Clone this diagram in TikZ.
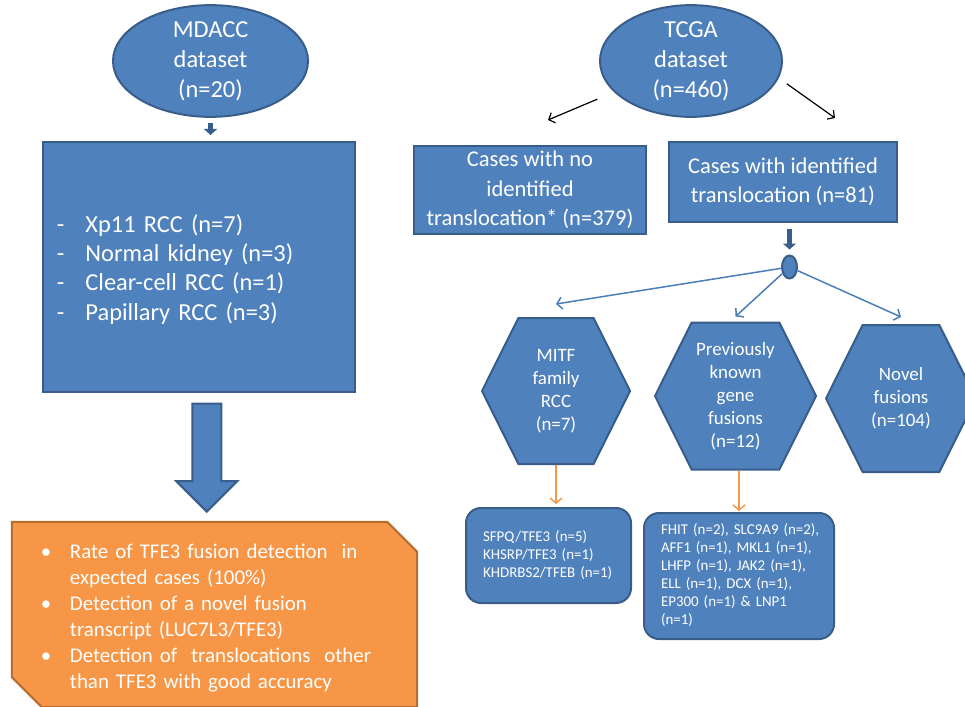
\documentclass[tikz,border=0pt]{standalone}
\usepackage{fontspec}
\setmainfont{Carlito}
\usetikzlibrary{shapes.geometric,shapes.symbols,shapes.arrows,arrows.meta,positioning,calc,backgrounds}
\definecolor{boxblue}{HTML}{4F81BD}
\definecolor{edgeblue}{HTML}{385D8A}
\definecolor{lineblue}{HTML}{4A7EBB}
\definecolor{boxorange}{HTML}{F79646}
\definecolor{edgeorange}{HTML}{B66D31}

\begin{document}
\begin{tikzpicture}[x=1bp, y=-1bp,
    every node/.style={text=white, font=\fontsize{22.6}{29.5}\selectfont},
    bluebox/.style={rectangle, draw=edgeblue, fill=boxblue, line width=2bp, inner sep=0pt},
    dataset/.style={ellipse, draw=edgeblue, fill=boxblue, line width=2bp, align=center, inner sep=0pt, font=\fontsize{24.5}{30}\selectfont},
    hexbox/.style={signal, signal to=east and west, signal pointer angle=127, draw=edgeblue, fill=boxblue, line width=2bp, align=center, inner sep=0pt, font=\fontsize{19}{23}\selectfont},
    genebox/.style={rectangle, rounded corners=15bp, draw=edgeblue, fill=boxblue, line width=2bp, align=left, inner ysep=0pt, inner xsep=17bp, font=\fontsize{15}{18}\selectfont},
    blockarrow/.style={edgeblue, line width=5bp, -{Triangle[length=6bp,width=13bp]}},
    thinarrow/.style={black, line width=1.2bp, -{Straight Barb[length=5bp,width=11bp]}},
    splitarrow/.style={lineblue, line width=1.5bp, -{Straight Barb[length=5bp,width=12bp]}},
    genearrow/.style={boxorange, line width=1.5bp, -{Straight Barb[length=5bp,width=12bp]}}
]
    \useasboundingbox (0,0) rectangle (965,707);

    % MDACC branch
    \node[dataset, minimum width=195bp, minimum height=102bp] (MDACC) at (210.5,61) {MDACC\\dataset\\(n=20)};
    \node[bluebox, minimum width=312bp, minimum height=250bp, align=left, text width=284bp, inner xsep=14bp,
        font=\fontsize{24.5}{29.3}\selectfont] (SAMPLES) at (199,267)
        {\raisebox{-3.5bp}[\height][\depth]{\begin{tabular}{@{}l@{\hspace{21bp}}l@{}}
            - & Xp11 RCC (n=7)\\
            - & Normal kidney (n=3)\\
            - & Clear-cell RCC (n=1)\\
            - & Papillary RCC (n=3)
        \end{tabular}}};
    \node[minimum width=405bp, minimum height=185bp, inner ysep=0pt, inner xsep=29bp, text width=347bp, align=left,
        font=\fontsize{21}{26}\selectfont] (RESULT) at (214.5,614.5)
        {\raisebox{-4bp}[\height][\depth]{\begin{tabular}{@{}l@{}l@{}}
            \makebox[29bp][l]{\textbullet} & Rate of TFE3 fusion detection \ in\\
                        & expected cases (100\%)\\
            \makebox[29bp][l]{\textbullet} & Detection of a novel fusion\\
                        & transcript (LUC7L3/TFE3)\\
            \makebox[29bp][l]{\textbullet} & Detection of \ translocations \ other\\
                        & than TFE3 with good accuracy
        \end{tabular}}};
    \begin{scope}[on background layer]
        \draw[draw=edgeorange, fill=boxorange, line width=2bp] (RESULT.north west) -- ([xshift=-30bp]RESULT.north east)
            -- ([yshift=-30bp]RESULT.north east) -- (RESULT.south east) -- ([xshift=30bp]RESULT.south west)
            -- ([yshift=30bp]RESULT.south west) -- cycle;
    \end{scope}

    \draw[blockarrow, shorten <=5bp, shorten >=6bp] (MDACC.south) -- (MDACC.south |- SAMPLES.north);
    \node[single arrow, rotate=-90, draw=edgeblue, fill=boxblue, line width=2bp, minimum height=108bp,
        inner xsep=0pt, inner ysep=13.5bp, single arrow head extend=16bp] (DOWN)
        at ([yshift=7bp]$(SAMPLES.south)!0.5!(RESULT.north)$) {};

    % TCGA branch
    \node[dataset, minimum width=182bp, minimum height=102bp] (TCGA) at (691,61) {TCGA\\dataset\\(n=460)};
    \node[bluebox, minimum width=232bp, minimum height=88bp, align=center] (NOID) at (530,190) {Cases with no\\identified\\translocation* (n=379)};
    \node[bluebox, minimum width=228bp, minimum height=80bp, align=center] (IDBOX) at (783,182) {Cases with identified\\translocation (n=81)};
    \coordinate (TL) at (548,120);
    \coordinate (TR) at (835,118);
    \draw[thinarrow, shorten <=18bp] (TCGA.202) -- (TL);
    \draw[thinarrow, shorten <=10bp] (TCGA.-11) -- (TR);

    \node[ellipse, draw=edgeblue, fill=boxblue, line width=2bp, minimum width=15bp, minimum height=23bp, inner sep=0pt] (SPLIT) at (789.5,267) {};
    \draw[blockarrow, shorten <=6bp, shorten >=5bp] (IDBOX.south -| SPLIT.north) -- (SPLIT.north);

    % Fusion groups
    \node[hexbox, minimum width=148bp, minimum height=146bp] (MITF) at (556,391) {MITF\\family\\RCC\\(n=7)};
    \node[hexbox, minimum width=161bp, minimum height=147bp] (GENES) at (735.5,396) {Previously\\known\\gene\\fusions\\(n=12)};
    \node[hexbox, minimum width=150bp, minimum height=147bp] (NOVEL) at (901,398.5) {Novel\\fusions\\(n=104)};

    \draw[splitarrow] (SPLIT) -- ([yshift=13bp]MITF.north);
    \draw[splitarrow] (SPLIT) -- ([yshift=5bp]GENES.north);
    \draw[splitarrow] (SPLIT) -- ([yshift=7bp]NOVEL.north);

    \node[genebox, minimum width=165bp, minimum height=95bp, text width=131bp] (SFPQ) at (548.5,555.5)
        {\begin{tabular}{@{}l@{}}SFPQ/TFE3 (n=5)\\KHSRP/TFE3 (n=1)\\KHDRBS2/TFEB (n=1)\end{tabular}};
    \node[genebox, minimum width=190bp, minimum height=126bp, text width=156bp] (FHIT) at (739,576)
        {\begin{tabular}{@{}l@{}}FHIT (n=2), SLC9A9 (n=2),\\AFF1 (n=1), MKL1 (n=1),\\LHFP (n=1), JAK2 (n=1),\\ELL (n=1), DCX (n=1),\\EP300 (n=1) \& LNP1\\(n=1)\end{tabular}};

    \draw[genearrow, shorten >=3bp] (MITF.south) -- (MITF.south |- SFPQ.north);
    \draw[genearrow, shorten >=1bp] (FHIT.north |- GENES.south) -- (FHIT.north);
\end{tikzpicture}
\end{document}
